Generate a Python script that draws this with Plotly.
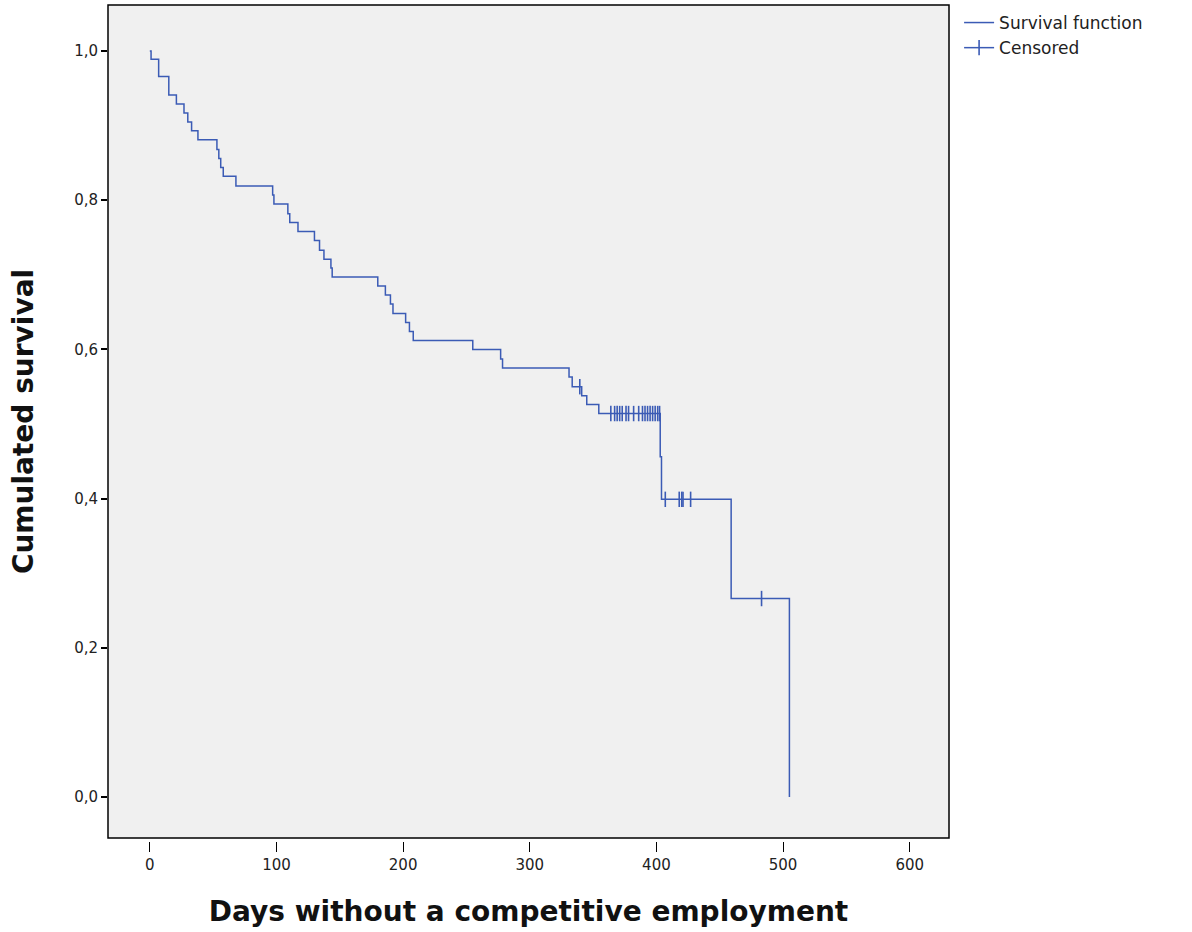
import numpy as np
import plotly.graph_objects as go

# Kaplan-Meier event steps (time in days, survival after the step)
event_days = [0, 1, 7, 15, 21, 27, 30, 33, 38, 53, 54.5, 56, 58, 68, 97, 98, 109,
              110.5, 117, 130, 134, 137.5, 143, 144, 180, 186, 190, 192, 202, 205,
              208, 255, 277, 278.5, 331, 333.5, 341, 345, 354.5, 403, 404, 459, 505]
survival = [1.0, 0.989, 0.966, 0.941, 0.929, 0.917, 0.905, 0.893, 0.881, 0.868,
            0.856, 0.844, 0.832, 0.819, 0.807, 0.795, 0.782, 0.770, 0.758, 0.746,
            0.733, 0.721, 0.709, 0.697, 0.685, 0.673, 0.661, 0.648, 0.636, 0.624,
            0.612, 0.600, 0.587, 0.575, 0.563, 0.550, 0.538, 0.526, 0.514, 0.456,
            0.399, 0.266, 0.0]

# Censored observations (days)
censored_days = [339.5, 364, 367, 369, 371, 373, 376, 378, 382, 386, 389, 391, 393,
                 395, 397, 399, 401, 402.5, 407, 418, 420, 421, 427, 483]

x_ticks = [0, 100, 200, 300, 400, 500, 600]
y_ticks = [0.0, 0.2, 0.4, 0.6, 0.8, 1.0]
y_ticktext = ["0,0", "0,2", "0,4", "0,6", "0,8", "1,0"]

x_title = "Days without a competitive employment"
y_title = "Cumulated survival"

COLOR = "#3b5bb5"
FONT = "DejaVu Sans"

ev = np.array(event_days)
sv = np.array(survival)
idx = np.searchsorted(ev, np.array(censored_days), side="right") - 1
cens_y = sv[idx]

# insert None between censored points so no connecting line is drawn
cx, cy = [], []
for xv, yv in zip(censored_days, cens_y):
    cx += [xv, None]
    cy += [float(yv), None]

fig = go.Figure()
fig.add_trace(go.Scatter(
    x=event_days, y=survival, mode="lines", line=dict(color=COLOR, width=1.5, shape="hv"),
    name="Survival function", hoverinfo="skip"))
fig.add_trace(go.Scatter(
    x=cx, y=cy, mode="lines+markers", connectgaps=False,
    line=dict(color=COLOR, width=1.5),
    marker=dict(symbol="line-ns", size=11, line=dict(color=COLOR, width=1.6)),
    name="Censored", hoverinfo="skip"))

fig.add_shape(type="rect", xref="x domain", yref="y domain", x0=0, x1=1, y0=0, y1=1,
              line=dict(color="black", width=1.5), fillcolor="rgba(0,0,0,0)", layer="above")

fig.update_layout(
    width=1192, height=932,
    margin=dict(l=108, r=243, t=5, b=91),
    paper_bgcolor="white", plot_bgcolor="#f0f0f0",
    font=dict(family=FONT, size=15, color="#222"),
    showlegend=True,
    legend=dict(x=1.012, y=1.0, xanchor="left", yanchor="top",
                font=dict(family=FONT, size=17, color="#222"),
                bgcolor="rgba(0,0,0,0)", tracegroupgap=0, itemwidth=30),
    xaxis=dict(range=[-33, 631], tickvals=x_ticks, ticks="outside", ticklen=10,
               tickwidth=1.3, tickcolor="black", showgrid=False, zeroline=False,
               showline=False, anchor="free", position=0,
               tickfont=dict(family=FONT, size=15, color="#222"),
               title=dict(text="<b>" + x_title + "</b>", standoff=28,
                          font=dict(family=FONT, size=28, color="#111"))),
    yaxis=dict(range=[-0.055, 1.0617], domain=[0.0036, 1], tickvals=y_ticks,
               ticktext=y_ticktext, ticks="outside", ticklen=6, tickwidth=1.5,
               tickcolor="black", showgrid=False, zeroline=False, showline=False,
               tickfont=dict(family=FONT, size=15, color="#222"),
               title=dict(text="<b>" + y_title + "</b>", standoff=32,
                          font=dict(family=FONT, size=28, color="#111"))),
)

fig.write_html("out.html", config={"displayModeBar": False},
               post_script="document.body.style.margin='0';")
